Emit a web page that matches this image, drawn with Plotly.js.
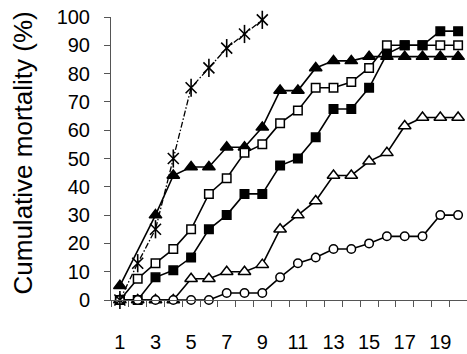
<!DOCTYPE html>
<html>
<head>
<meta charset="utf-8">
<script src="https://cdn.plot.ly/plotly-3.0.1.min.js"></script>
<style>html,body{margin:0;padding:0;background:#fff;}#chart{width:467px;height:354px;}</style>
</head>
<body>
<div id="chart"></div>
<script>
// Days (x categories)
const days = [1,2,3,4,5,6,7,8,9,10,11,12,13,14,15,16,17,18,19,20];
const starDays = [1,2,3,4,5,6,7,8,9];
// Series values (cumulative mortality %)
const starSeries      = [0, 13, 25, 50, 75, 82, 89, 94, 99];
const filledTriangle  = [5, null, 30, 44, 47, 47, 54, 54, 61, 74, 74, 82, 84.5, 84.5, 86, 86, 86, 86, 86, 86];
const openSquare      = [0, 7.5, 13, 18, 25, 37.5, 43, 52, 55, 62.5, 67, 75, 75, 77, 82, 90, 90, 90, 90, 90];
const filledSquare    = [0, 0, 8, 10.5, 15, 25, 30, 37.5, 37.5, 47.5, 50, 57.5, 67.5, 67.5, 75, 87, 90, 90, 95, 95];
const openTriangle    = [0, 0, 0, 0, 7.5, 7.5, 10, 10, 12.5, 25, 30, 35, 44, 44, 49, 52, 61.5, 64.5, 64.5, 64.5];
const openCircle      = [0, 0, 0, 0, 0, 0, 2.5, 2.5, 2.5, 8, 13, 15, 18, 18, 20, 22.5, 22.5, 22.5, 30, 30];
// Tick labels
const xTickLabels = [1,3,5,7,9,11,13,15,17,19];
const yTickLabels = [0,10,20,30,40,50,60,70,80,90,100];
const yTitle = 'Cumulative mortality (%)';

const boundaries = [];
for (let i = 0; i <= days.length; i++) boundaries.push(days[0] - 0.5 + i);

const lineStyle = {color: '#000', width: 1.6};
function series(y, symbol, fill, size, x) {
  return {
    x: x || days, y: y, type: 'scatter', mode: 'lines+markers', connectgaps: true,
    line: lineStyle, cliponaxis: false,
    marker: {symbol: symbol, size: size, color: fill, line: {color: '#000', width: 1.5}},
    showlegend: false, hoverinfo: 'skip'
  };
}

const traces = [
  series(filledTriangle, 'triangle-up', '#000', 11),
  series(openSquare, 'square', '#fff', 8.5),
  series(filledSquare, 'square', '#000', 8.5),
  series(openTriangle, 'triangle-up', '#fff', 11),
  series(openCircle, 'circle', '#fff', 8.5),
  {
    x: starDays, y: starSeries, type: 'scatter', mode: 'lines+markers', cliponaxis: false,
    line: {color: '#000', width: 1.3, dash: '6px,2px,1.5px,2px'},
    marker: {symbol: 'x-thin-open', size: 11, color: '#000', line: {color: '#000', width: 1.6}},
    showlegend: false, hoverinfo: 'skip'
  },
  {
    x: starDays, y: starSeries, type: 'scatter', mode: 'markers', cliponaxis: false,
    marker: {symbol: 'line-ns-open', size: 13, color: '#000', line: {color: '#000', width: 1.6}},
    showlegend: false, hoverinfo: 'skip'
  }
];

const font = {family: '"Liberation Sans", Arial, sans-serif', size: 20, color: '#000'};

const layout = {
  width: 467, height: 354,
  margin: {l: 111, r: 0, t: 17, b: 54},
  paper_bgcolor: '#fff', plot_bgcolor: '#fff',
  font: font,
  xaxis: {
    range: [0.5, 20.5], showgrid: false, zeroline: false,
    showline: true, linecolor: '#555', linewidth: 1,
    tickmode: 'array', tickvals: xTickLabels, ticktext: xTickLabels.map(String),
    ticks: '', ticklabelstandoff: 24,
    minor: {tickmode: 'array', tickvals: boundaries, ticks: 'outside', ticklen: 6, tickcolor: '#555', tickwidth: 1, showgrid: false},
    tickfont: font
  },
  yaxis: {
    range: [0, 100], showgrid: false, zeroline: false,
    showline: true, linecolor: '#555', linewidth: 1,
    tickmode: 'array', tickvals: yTickLabels, ticktext: yTickLabels.map(String),
    ticks: 'outside', ticklen: 6, tickcolor: '#555', tickwidth: 1,
    ticklabelstandoff: 10,
    tickfont: font
  },
  annotations: [{
    text: yTitle, textangle: -90, showarrow: false,
    xref: 'paper', yref: 'paper', x: (22 - 111) / 356, y: (300 - 153.5) / 283,
    xanchor: 'center', yanchor: 'middle',
    font: {family: font.family, size: 26, color: '#000'}
  }]
};

Plotly.newPlot('chart', traces, layout, {staticPlot: true, displayModeBar: false});
</script>
</body>
</html>
